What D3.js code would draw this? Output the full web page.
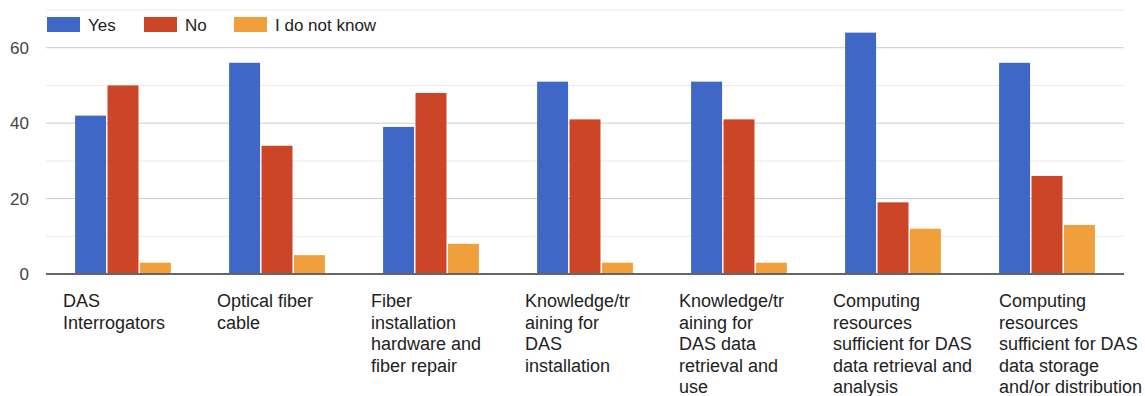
<!DOCTYPE html>
<html><head><meta charset="utf-8">
<script src="https://cdn.jsdelivr.net/npm/d3@7"></script>
<style>body{margin:0;background:#fff}svg{display:block}text{font-family:"Liberation Sans",Arial,sans-serif}</style>
</head><body><svg id="c" width="1145" height="396"></svg>
<script>
const categories = [
  ["DAS", "Interrogators"],
  ["Optical fiber", "cable"],
  ["Fiber", "installation", "hardware and", "fiber repair"],
  ["Knowledge/tr", "aining for", "DAS", "installation"],
  ["Knowledge/tr", "aining for", "DAS data", "retrieval and", "use"],
  ["Computing", "resources", "sufficient for DAS", "data retrieval and", "analysis"],
  ["Computing", "resources", "sufficient for DAS", "data storage", "and/or distribution"]
];
const seriesNames = ["Yes", "No", "I do not know"];
const yesValues = [42, 56, 39, 51, 51, 64, 56];
const noValues = [50, 34, 48, 41, 41, 19, 26];
const dontKnowValues = [3, 5, 8, 3, 3, 12, 13];
const majorTicks = [0, 20, 40, 60];
const minorTicks = [10, 30, 50, 70];
const colors = ["#3f67c6", "#cb4526", "#f0a03a"];

(function () {
const series = [yesValues, noValues, dontKnowValues];
const svg = d3.select("#c");
const W = 1145, mLeft = 46, mRight = 1124, mTop = 10, mBottom = 274;

const y = d3.scaleLinear().domain([0, 70]).range([mBottom, mTop]);
const x0 = d3.scaleBand().domain(d3.range(categories.length)).range([mLeft, mRight])
  .paddingInner(0.378).paddingOuter(0.189);
const x1 = d3.scaleBand().domain(d3.range(seriesNames.length)).range([0, x0.bandwidth()]).paddingInner(0.045);

svg.append("g").selectAll("line").data(minorTicks).join("line")
  .attr("x1", mLeft).attr("x2", mRight).attr("y1", d => y(d)).attr("y2", d => y(d))
  .attr("stroke", "#ebebeb").attr("stroke-width", 1);
svg.append("g").selectAll("line").data(majorTicks.filter(d => d > 0)).join("line")
  .attr("x1", mLeft).attr("x2", mRight).attr("y1", d => y(d)).attr("y2", d => y(d))
  .attr("stroke", "#cccccc").attr("stroke-width", 1);

const yAxis = d3.axisLeft(y).tickValues(majorTicks).tickSize(0).tickPadding(0);
const ya = svg.append("g").attr("transform", `translate(29,0)`).call(yAxis);
ya.select(".domain").remove();
ya.selectAll("text").attr("font-size", 17).attr("fill", "#444").attr("font-family", '"Liberation Sans",Arial,sans-serif');

const groups = svg.append("g").selectAll("g").data(categories).join("g")
  .attr("transform", (d, i) => `translate(${x0(i)},0)`);
groups.selectAll("rect").data((d, i) => series.map((s, j) => ({j, v: s[i]}))).join("rect")
  .attr("x", d => x1(d.j)).attr("width", x1.bandwidth())
  .attr("y", d => y(d.v)).attr("height", d => y(0) - y(d.v))
  .attr("fill", d => colors[d.j]);

svg.append("line").attr("x1", mLeft).attr("x2", mRight).attr("y1", y(0)).attr("y2", y(0))
  .attr("stroke", "#666").attr("stroke-width", 2);

const xl = svg.append("g").selectAll("text").data(categories).join("text")
  .attr("y", 307).attr("font-size", 18).attr("fill", "#222");
xl.selectAll("tspan").data(d => d).join("tspan")
  .attr("dy", (d, i) => i === 0 ? 0 : 21.5).text(d => d);
xl.each(function (d, i) {
  const t = d3.select(this);
  let maxW = 0;
  t.selectAll("tspan").each(function () { maxW = Math.max(maxW, this.getComputedTextLength()); });
  const c = x0(i) + x0.bandwidth() / 2;
  let xs = c - 60;
  if (i === categories.length - 1) xs = Math.min(W - 3 - maxW, x0(i) + 1);
  t.attr("x", xs);
  t.selectAll("tspan").attr("x", xs);
});

const legendX = [47, 144, 234];
const lg = svg.append("g").selectAll("g").data(seriesNames).join("g")
  .attr("transform", (d, i) => `translate(${legendX[i]},17)`);
lg.append("rect").attr("width", 33).attr("height", 15).attr("fill", (d, i) => colors[i]);
lg.append("text").attr("x", 41).attr("y", 14).attr("font-size", 17).attr("fill", "#222").text(d => d);
})();
</script></body></html>
